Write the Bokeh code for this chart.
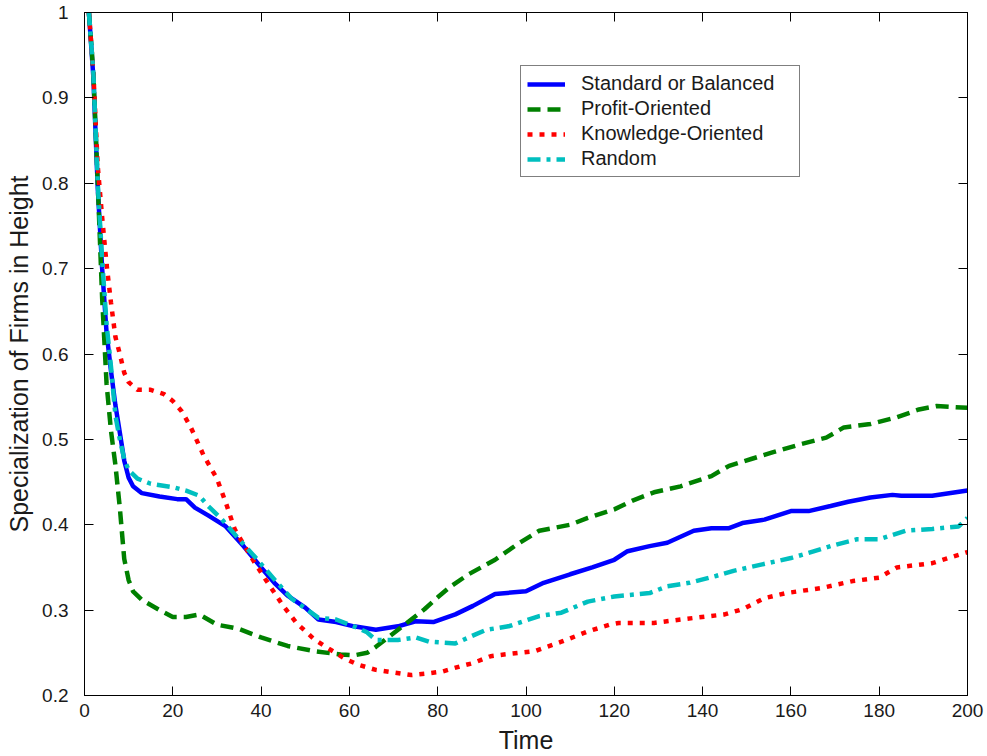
from bokeh.plotting import figure
from bokeh.models import (Range1d, FixedTicker, LinearAxis, Legend, LegendItem,
                          CustomJSTickFormatter)
from bokeh.embed import file_html
from bokeh.resources import INLINE

# ---- data -------------------------------------------------------------
std_t = [1, 2, 3, 4, 5, 6, 7, 8, 9, 10, 11, 13, 17, 21, 23, 25, 28, 32, 36, 40,
         43, 46, 50, 53, 57, 61, 66, 71, 75, 79, 84, 88, 93, 100, 104, 110, 115,
         120, 123, 128, 132, 138, 142, 146, 149, 154, 160, 164, 169, 173, 178,
         183, 185, 192, 200]
std_v = [1.0, 0.925, 0.795, 0.70, 0.625, 0.58, 0.54, 0.508, 0.475, 0.455, 0.445,
         0.437, 0.433, 0.430, 0.430, 0.420, 0.411, 0.398, 0.375, 0.350, 0.332,
         0.317, 0.303, 0.289, 0.286, 0.281, 0.277, 0.281, 0.287, 0.286, 0.295,
         0.305, 0.319, 0.322, 0.332, 0.342, 0.350, 0.359, 0.369, 0.375, 0.379,
         0.393, 0.396, 0.396, 0.402, 0.406, 0.416, 0.416, 0.422, 0.427, 0.432,
         0.435, 0.434, 0.434, 0.440]

profit_t = [1, 2, 3, 4, 5, 6, 7, 8, 9, 10, 11, 13, 17, 20, 23, 26, 30, 35, 40, 46,
            52, 58, 61, 64, 66, 69, 73, 77, 80, 83, 87, 93, 98, 103, 110, 114,
            120, 124, 129, 135, 142, 146, 151, 156, 162, 168, 172, 178, 184, 189,
            193, 200]
profit_v = [1.0, 0.93, 0.80, 0.665, 0.565, 0.51, 0.47, 0.42, 0.36, 0.335, 0.322,
            0.312, 0.300, 0.292, 0.292, 0.295, 0.283, 0.278, 0.268, 0.258, 0.252,
            0.248, 0.247, 0.250, 0.257, 0.269, 0.285, 0.301, 0.315, 0.328, 0.342,
            0.359, 0.377, 0.393, 0.400, 0.408, 0.418, 0.428, 0.438, 0.445, 0.457,
            0.469, 0.477, 0.485, 0.494, 0.502, 0.514, 0.518, 0.526, 0.535, 0.539,
            0.537]

know_t = [1, 2, 3, 4, 5, 6, 7, 8, 9, 10, 12, 15, 18, 20, 22, 24, 27, 30, 32, 34,
          38, 41, 45, 48, 52, 55, 59, 62, 66, 70, 74, 78, 81, 85, 88, 92, 95, 102,
          108, 114, 119, 121, 129, 135, 145, 149, 154, 159, 167, 174, 180, 184,
          192, 200]
know_v = [1.0, 0.93, 0.82, 0.76, 0.705, 0.66, 0.62, 0.60, 0.578, 0.567, 0.558,
          0.558, 0.553, 0.545, 0.533, 0.515, 0.481, 0.454, 0.426, 0.395, 0.360,
          0.336, 0.305, 0.285, 0.266, 0.256, 0.243, 0.236, 0.230, 0.227, 0.224,
          0.226, 0.228, 0.234, 0.238, 0.246, 0.248, 0.252, 0.263, 0.275, 0.283,
          0.285, 0.285, 0.289, 0.295, 0.301, 0.314, 0.320, 0.326, 0.334, 0.338,
          0.350, 0.355, 0.368]

rand_t = [1, 2, 3, 4, 5, 6, 7, 8, 9, 10, 12, 15, 20, 23, 26, 28, 31, 35, 39, 43,
          47, 53, 57, 61, 64, 66, 71, 75, 78, 81, 84, 87, 91, 96, 103, 108, 114,
          120, 128, 132, 137, 143, 147, 153, 160, 164, 169, 175, 180, 186, 192,
          198, 200]
rand_v = [1.0, 0.93, 0.80, 0.71, 0.635, 0.585, 0.528, 0.50, 0.477, 0.464, 0.454,
          0.448, 0.444, 0.440, 0.434, 0.422, 0.407, 0.383, 0.360, 0.336, 0.313,
          0.291, 0.289, 0.281, 0.274, 0.265, 0.265, 0.268, 0.263, 0.262, 0.261,
          0.268, 0.277, 0.281, 0.293, 0.297, 0.310, 0.316, 0.320, 0.328, 0.332,
          0.340, 0.346, 0.353, 0.361, 0.367, 0.375, 0.383, 0.383, 0.393, 0.395,
          0.398, 0.408]

series_names = ["Standard or Balanced", "Profit-Oriented",
                "Knowledge-Oriented", "Random"]

x_ticks = [0, 20, 40, 60, 80, 100, 120, 140, 160, 180, 200]
y_ticks = [0.2, 0.3, 0.4, 0.5, 0.6, 0.7, 0.8, 0.9, 1.0]
y_tick_labels = ["0.2", "0.3", "0.4", "0.5", "0.6", "0.7", "0.8", "0.9", "1"]

# ---- figure -----------------------------------------------------------
FONT = "Liberation Sans"
TEXT = "#1a1a1a"

p = figure(width=987, height=756, output_backend="svg", toolbar_location=None,
           x_range=Range1d(0, 200), y_range=Range1d(0.2, 1.0),
           min_border_left=84, min_border_right=20, min_border_top=12,
           min_border_bottom=60, x_axis_label="Time",
           y_axis_label="Specialization of Firms in Height")
p.background_fill_color = "white"
p.border_fill_color = "white"
p.outline_line_color = "black"
p.outline_line_width = 1
p.xgrid.visible = False
p.ygrid.visible = False

xa = p.xaxis[0]
ya = p.yaxis[0]
xa.ticker = FixedTicker(ticks=x_ticks)
ya.ticker = FixedTicker(ticks=y_ticks)
ya.major_label_overrides = dict(zip(y_ticks, y_tick_labels))

for ax in (xa, ya):
    ax.axis_line_color = "black"
    ax.major_tick_line_color = "black"
    ax.major_tick_in = 9
    ax.major_tick_out = 0
    ax.minor_tick_line_color = None
    ax.major_label_text_font = FONT
    ax.major_label_text_font_size = "19px"
    ax.major_label_text_color = TEXT
    ax.axis_label_text_font = FONT
    ax.axis_label_text_font_style = "normal"
    ax.axis_label_text_font_size = "25px"
    ax.axis_label_text_color = TEXT

xa.major_label_standoff = 8
xa.axis_label_standoff = 6
ya.major_label_standoff = 16
ya.axis_label_standoff = 6

# tick marks on the top and right edges of the box
blank = CustomJSTickFormatter(code="return ''")
for side, ticks in (("right", y_ticks), ("above", x_ticks)):
    ax = LinearAxis(ticker=FixedTicker(ticks=ticks), formatter=blank,
                    major_tick_in=9, major_tick_out=0,
                    minor_tick_line_color=None, axis_line_color="black",
                    major_tick_line_color="black",
                    major_label_text_font_size="1px", major_label_standoff=0)
    p.add_layout(ax, side)

# ---- lines ------------------------------------------------------------
LW = 4.5
r_std = p.line(std_t, std_v, line_color="#0000ff", line_width=LW)
r_profit = p.line(profit_t, profit_v, line_color="#008000", line_width=LW,
                  line_dash="13 7")
r_know = p.line(know_t, know_v, line_color="#ff0000", line_width=LW,
                line_dash="5 7")
r_rand = p.line(rand_t, rand_v, line_color="#00bfbf", line_width=LW,
                line_dash="13 6 4 6")

legend = Legend(items=[LegendItem(label=n, renderers=[r]) for n, r in
                       zip(series_names, [r_std, r_profit, r_know, r_rand])],
                location=(436, 518), padding=6, spacing=2, margin=0,
                glyph_width=38, glyph_height=18, label_height=18,
                label_width=212, label_standoff=16,
                label_text_font=FONT, label_text_font_size="20px",
                label_text_color=TEXT,
                border_line_color="black", border_line_width=1,
                background_fill_color="white", background_fill_alpha=1.0)
p.add_layout(legend, "center")

open("out.html", "w").write(file_html(p, INLINE))
